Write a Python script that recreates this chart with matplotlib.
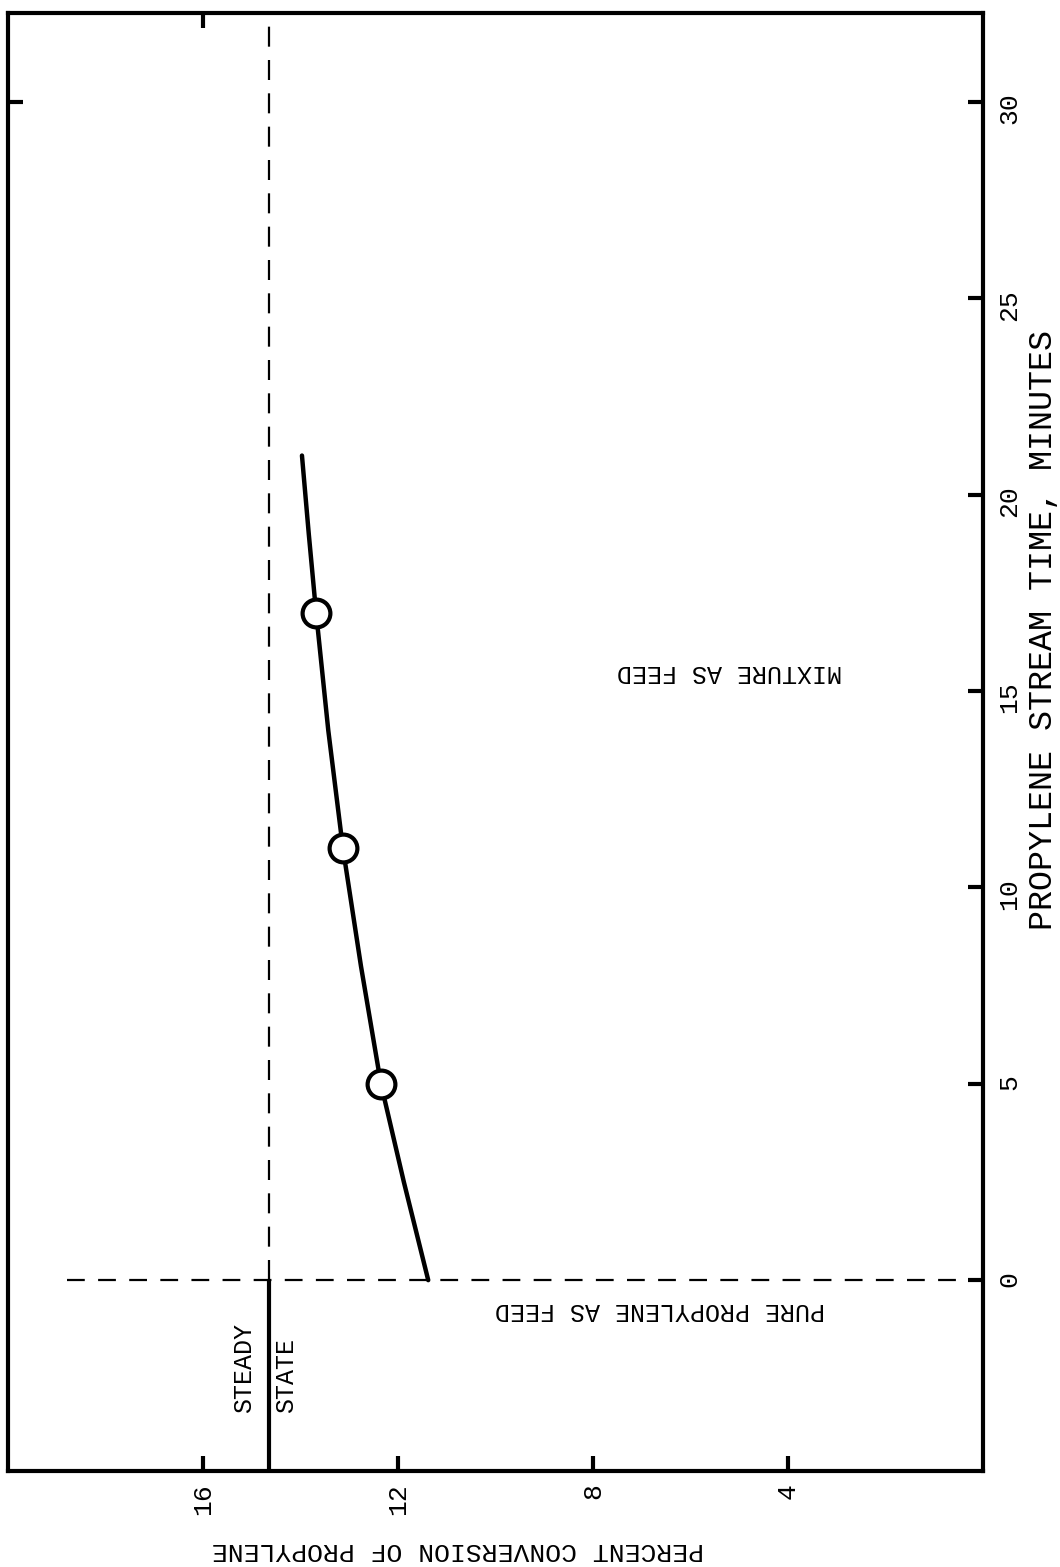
import matplotlib
matplotlib.use("Agg")
import matplotlib.pyplot as plt

# values (chart is printed rotated)
time_ticks = [0, 5, 10, 15, 20, 25, 30]
conv_ticks = [16, 12, 8, 4]

curve_time = [0, 2.5, 5, 8, 11, 14, 17, 19, 21]
curve_conv = [11.38, 11.88, 12.35, 12.76, 13.13, 13.43, 13.68, 13.83, 13.97]

point_time = [5, 11, 17]
point_conv = [12.35, 13.13, 13.68]

steady_state = 14.65
switch_time = 0
switch_line_start = 18.8

plt.rcParams['font.family'] = ['Liberation Mono', 'DejaVu Sans Mono']

fig = plt.figure(figsize=(10.6, 15.67), dpi=100)
ax = fig.add_axes([8 / 1060, 96 / 1567, 975 / 1060, 1458 / 1567])
ax.set_xlim(20, 0)
ax.set_ylim(-4.86, 32.27)

for s in ax.spines.values():
    s.set_linewidth(3)

# time axis on the right
ax.yaxis.tick_right()
ax.set_yticks(time_ticks)
ax.set_yticklabels([str(t) for t in time_ticks])
ax.tick_params(axis='y', direction='in', length=11, width=3, pad=10,
               labelsize=19, labelrotation=90)

# conversion axis on the bottom
ax.set_xticks(conv_ticks)
ax.set_xticklabels([str(c) for c in conv_ticks])
ax.tick_params(axis='x', direction='in', length=11, width=3, pad=9,
               labelsize=19, labelrotation=90)

top = ax.secondary_xaxis('top')
top.set_xticks([16])
top.tick_params(direction='in', length=11, width=3, labeltop=False)
left = ax.secondary_yaxis('left')
left.set_yticks([30])
left.tick_params(direction='in', length=11, width=3, labelleft=False)

# reference lines
ax.vlines(steady_state, switch_time, 32.27, colors='black', linewidth=1.6,
          linestyles=(0, (9, 6)))
ax.vlines(steady_state, -4.86, switch_time, colors='black', linewidth=3)
ax.hlines(switch_time, switch_line_start, 0, colors='black', linewidth=1.6,
          linestyles=(0, (8, 6)))

# curve and data points
ax.plot(curve_conv, curve_time, color='black', linewidth=3.2,
        solid_capstyle='round')
ax.plot(point_conv, point_time, 'o', markersize=20, markerfacecolor='white',
        markeredgecolor='black', markeredgewidth=3)

ax.text(5.2, 15.5, 'MIXTURE AS FEED', rotation=180, fontsize=18,
        ha='center', va='center')
ax.text(6.62, -0.76, 'PURE PROPYLENE AS FEED', rotation=180, fontsize=18,
        ha='center', va='center')
ax.text(15.15, -3.39, 'STEADY', rotation=90, fontsize=18,
        ha='center', va='bottom')
ax.text(14.29, -3.39, 'STATE', rotation=90, fontsize=18,
        ha='center', va='bottom')

fig.text(458 / 1060, 1 - 1550 / 1567, 'PERCENT CONVERSION OF PROPYLENE',
         rotation=180, fontsize=19, ha='center', va='center')
fig.text(1043 / 1060, 1 - 630 / 1567, 'PROPYLENE STREAM TIME, MINUTES',
         rotation=90, fontsize=24, ha='center', va='center')

fig.savefig('out.png', dpi=100, facecolor='white')
